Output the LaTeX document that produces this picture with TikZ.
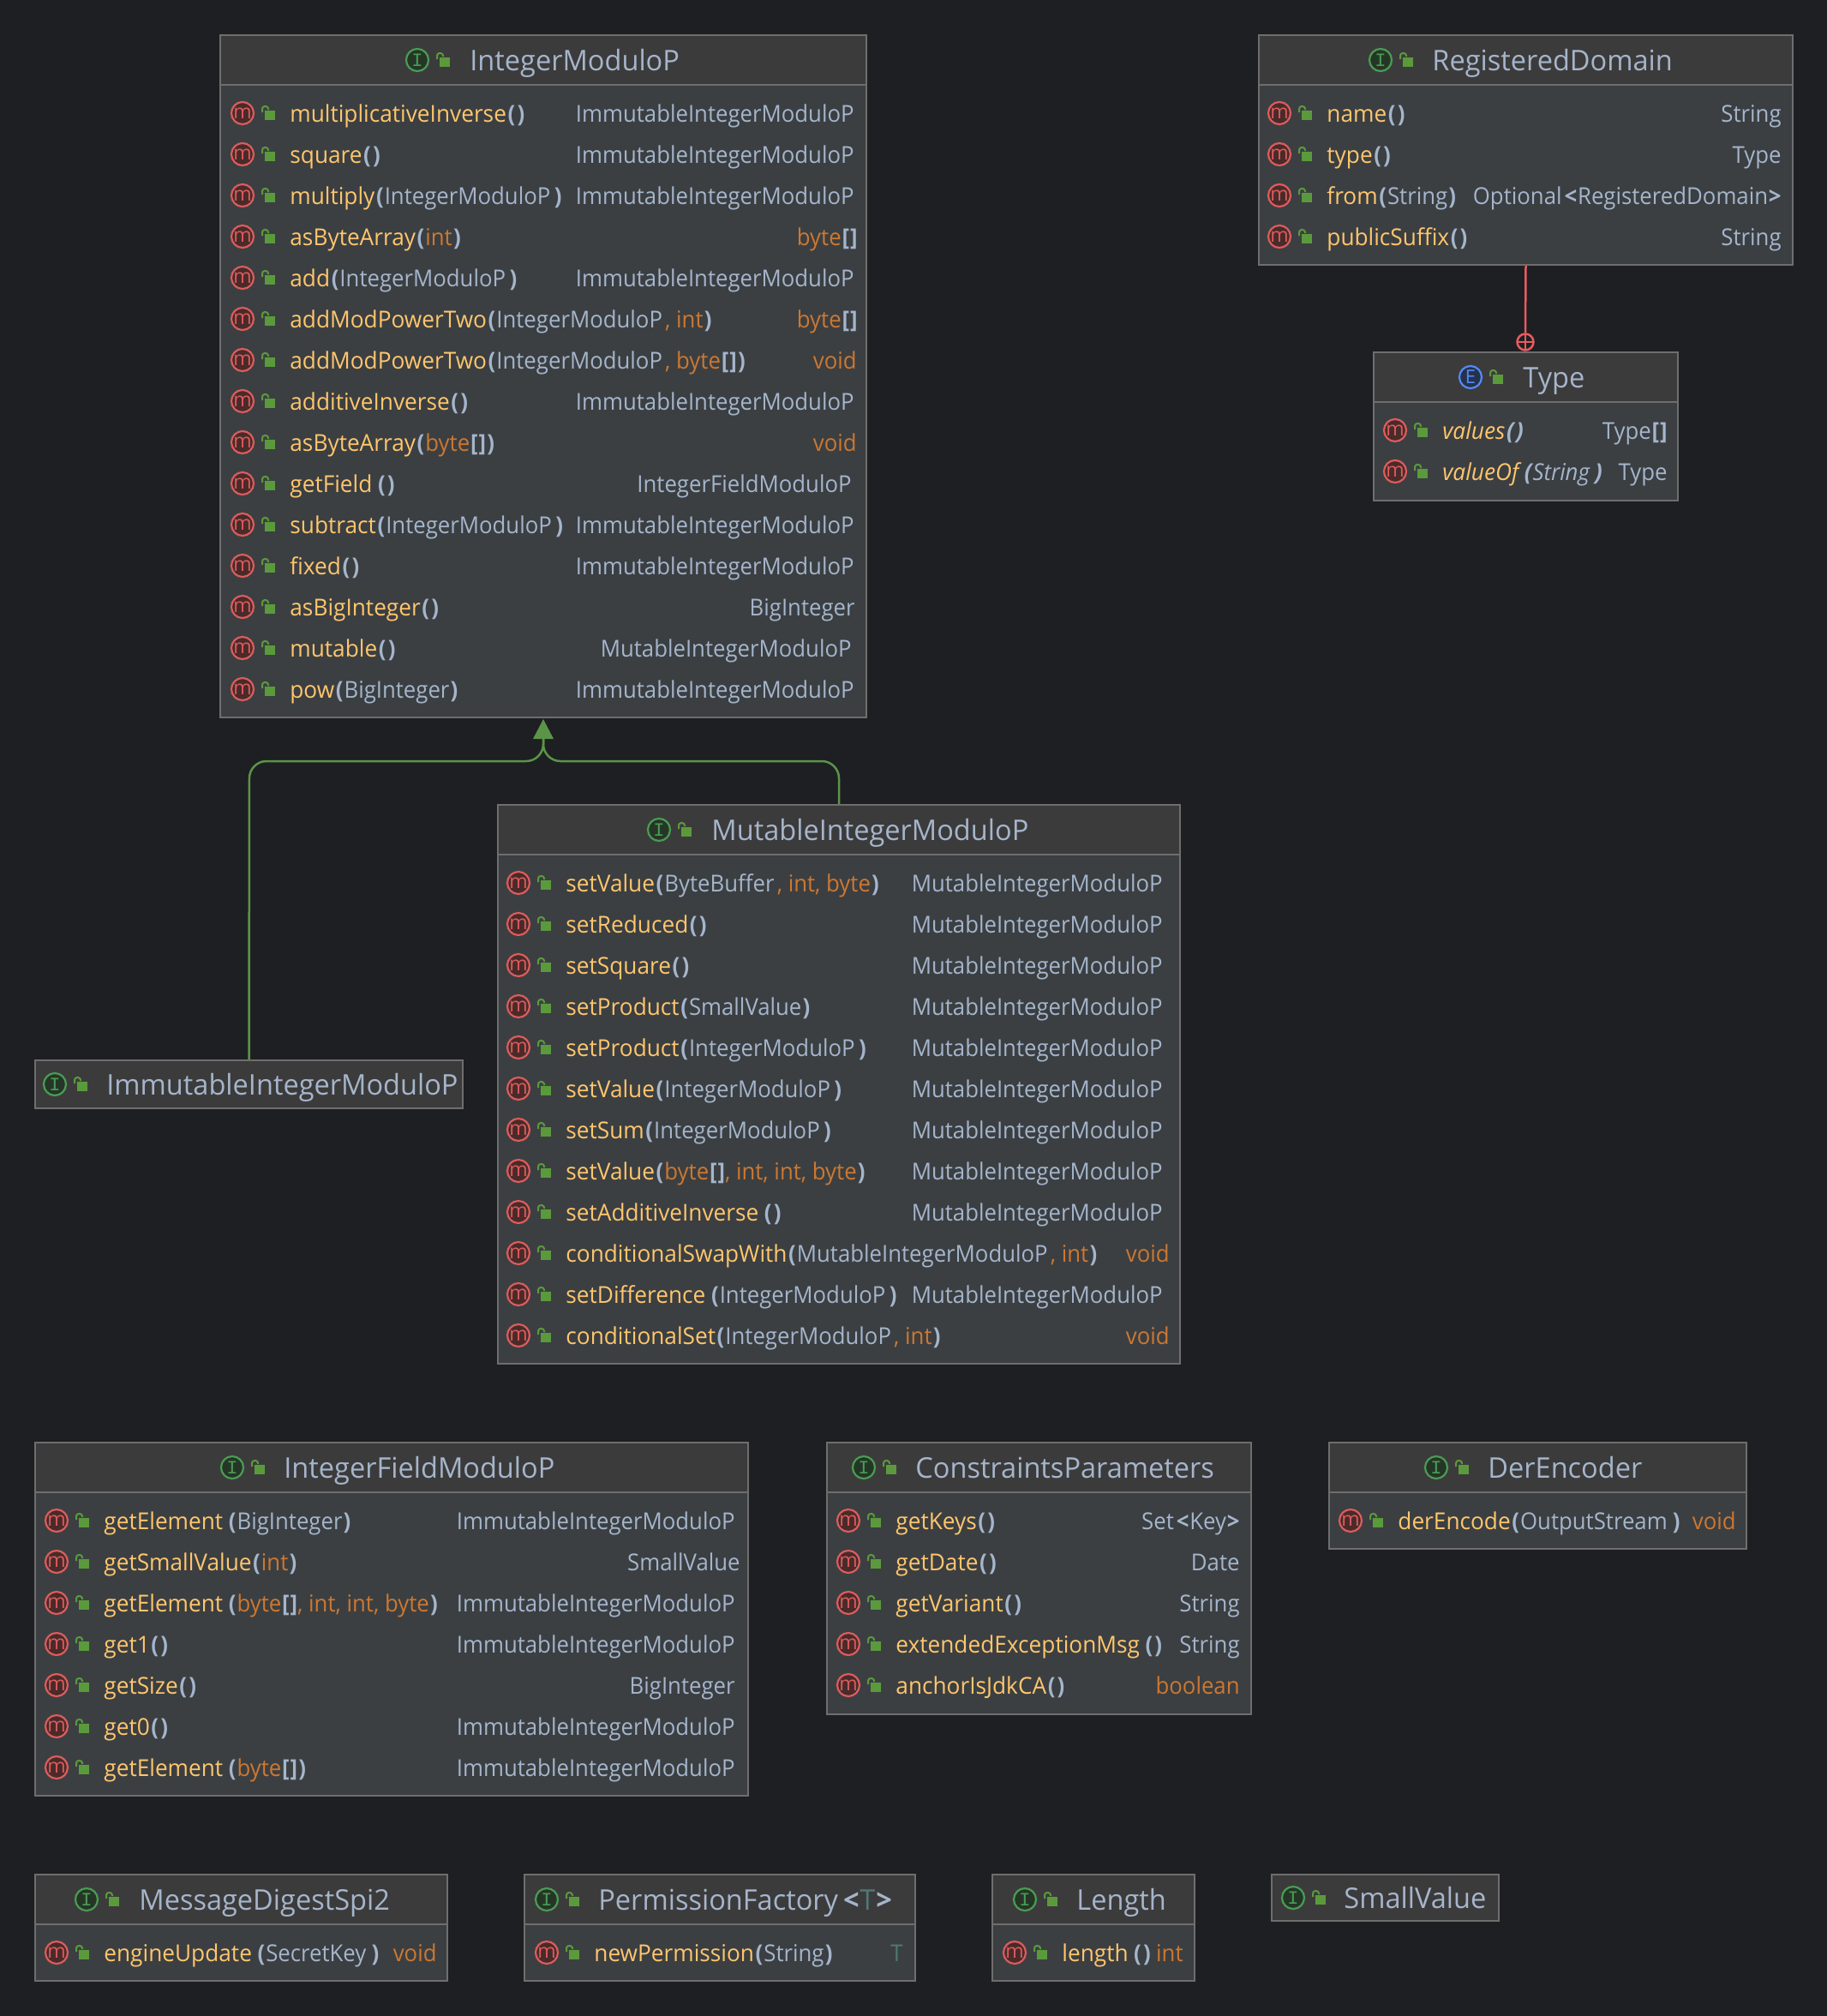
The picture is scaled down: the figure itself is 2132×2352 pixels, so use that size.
\documentclass[tikz,border=0pt]{standalone}
\usepackage{fontspec}
\setmainfont{Open Sans}
\newfontfamily\rowf[FakeStretch=0.947]{Open Sans}
\newfontfamily\methf[FakeStretch=0.965]{Open Sans}
\newfontfamily\titf[FakeStretch=0.98]{Open Sans}
\newfontfamily\iconf{Liberation Mono}
\usetikzlibrary{arrows.meta}
\definecolor{bg}{HTML}{1E1F22}
\definecolor{bodyc}{HTML}{3B3F42}
\definecolor{headc}{HTML}{3C3B3B}
\definecolor{edgec}{HTML}{6E6E6E}
\definecolor{txt}{HTML}{A5B5CB}
\definecolor{meth}{HTML}{FFC66D}
\definecolor{kw}{HTML}{CC7832}
\definecolor{tv}{HTML}{507874}
\definecolor{mred}{HTML}{DB5C5C}
\definecolor{mfill}{HTML}{4A2A2A}
\definecolor{ig}{HTML}{499C54}
\definecolor{ifill}{HTML}{253627}
\definecolor{eb}{HTML}{548AF7}
\definecolor{efill}{HTML}{25324D}
\definecolor{lockc}{HTML}{5B9A3C}
\definecolor{inh}{HTML}{5B9448}
\definecolor{nest}{HTML}{E85B5F}
\newcommand{\M}[1]{\textcolor{meth}{\methf #1}}
\newcommand{\K}[1]{\textcolor{kw}{#1}}
\newcommand{\G}{\kern2.5pt}
\newcommand{\LP}{\kern.8pt\textcolor{txt}{\bfseries(}\kern.5pt}
\newcommand{\RP}{\kern.6pt\textcolor{txt}{\bfseries)}\kern.3pt}
\newcommand{\BR}{\kern.4pt\textcolor{txt}{\bfseries[\kern.5pt]}}
\newcommand{\LA}{\kern1.5pt\textcolor{txt}{\bfseries<}\kern.4pt}
\newcommand{\RA}{\kern.4pt\textcolor{txt}{\bfseries>}}
\newcommand{\IMP}{IntegerModuloP\kern1.6pt}
\newcommand{\MMP}{MutableIntegerModuloP\kern1.6pt}
\newcount\nodeno
\tikzset{
  classbox/.style={draw=edgec,fill=bodyc,line width=1pt,inner sep=0pt,rectangle},
  rowtext/.style={inner sep=0pt,text=txt,font=\rowf\fontsize{13.6}{16}\selectfont},
  titletext/.style={inner sep=0pt,text=txt,font=\titf\fontsize{16.6}{20}\selectfont},
  icon/.style={circle,inner sep=0pt,minimum size=13pt,line width=1.1pt},
  micon/.style={icon,draw=mred,fill=mfill,text=mred,font=\fontsize{11.5}{11.5}\selectfont},
  iicon/.style={icon,draw=ig,fill=ifill,text=ig,font=\iconf\fontsize{11}{11}\selectfont},
  eicon/.style={icon,draw=eb,fill=efill,text=eb,font=\fontsize{11}{11}\selectfont},
  lockbody/.style={fill=lockc},
  lockarc/.style={draw=lockc,line width=1pt},
  inhline/.style={draw=inh,line width=1.25pt},
  nestline/.style={draw=nest,line width=1.25pt},
}
\newcommand{\lockic}[2]{%
  \pgfmathsetmacro\lb{#1+4}\pgfmathsetmacro\lc{#1+16}\pgfmathsetmacro\ld{#1+1}\pgfmathsetmacro\le{#1+8}%
  \pgfmathsetmacro\ya{#2-3}\pgfmathsetmacro\yb{#2+8}\pgfmathsetmacro\yc{#2-1}\pgfmathsetmacro\yd{#2-8}\pgfmathsetmacro\ye{#2-4}%
  \fill[lockbody] (\lb,\ya) rectangle (\lc,\yb);
  \draw[lockarc,rounded corners=1.5pt] (\ld,\yc) -- (\ld,\yd) -- (\le,\yd) -- (\le,\ye);
}
\newcommand{\cbox}[6]{%
  \node[classbox,minimum width={(#4-#2)*0.5pt},minimum height={(#5-#3)*0.5pt}] (#1) at ({(#2+#4)/2},{(#3+#5)/2}) {};
  \fill[headc] ({#2+1},{#3+1}) rectangle ({#4-1},{#6});
  \draw[edgec,line width=1pt] (#2,#6) -- (#4,#6);
}
\newcommand{\hdbox}[5]{%
  \node[classbox,fill=headc,minimum width={(#4-#2)*0.5pt},minimum height={(#5-#3)*0.5pt}] (#1) at ({(#2+#4)/2},{(#3+#5)/2}) {};
}
\newcommand{\ttl}[6]{%
  \global\advance\nodeno by 1
  \node[#1] (ti\the\nodeno) at (#2,#3) {#4};
  \lockic{#2+22}{#3}
  \node[titletext,anchor=base west] (tt\the\nodeno) at (#5,#3+12) {#6};
}
\newcommand{\mrow}[5]{%
  \global\advance\nodeno by 1
  \node[micon] (mi\the\nodeno) at (#1,#2) {m};
  \lockic{#1+22}{#2}
  \node[rowtext,anchor=base west] (ml\the\nodeno) at (#1+55,#2+10) {#3};
  \node[rowtext,anchor=base east] (mr\the\nodeno) at (#4,#2+10) {#5};
}
\begin{document}
\begin{tikzpicture}[x=0.5pt,y=-0.5pt]
\useasboundingbox (0,0) rectangle (2132,2352);
\fill[bg] (0,0) rectangle (2132,2352);

\coordinate (tip) at (634,839);

% IntegerModuloP
\cbox{imp}{257}{41}{1011}{837}{99}
\ttl{iicon}{487}{70}{I}{548}{IntegerModuloP}
\def\cx{283}\def\rx{997}
\mrow{\cx}{132}{\M{multiplicativeInverse}\LP\RP}{\rx}{ImmutableIntegerModuloP}
\mrow{\cx}{180}{\M{square}\LP\RP}{\rx}{ImmutableIntegerModuloP}
\mrow{\cx}{228}{\M{multiply}\LP\IMP\RP}{\rx}{ImmutableIntegerModuloP}
\mrow{\cx}{276}{\M{asByteArray}\LP\K{int}\RP}{1001}{\K{byte}\BR}
\mrow{\cx}{324}{\M{add}\LP\IMP\RP}{\rx}{ImmutableIntegerModuloP}
\mrow{\cx}{372}{\M{addModPowerTwo}\LP\IMP\K{, int}\RP}{1001}{\K{byte}\BR}
\mrow{\cx}{420}{\M{addModPowerTwo}\LP\IMP\K{, byte}\BR\RP}{1000}{\K{void}}
\mrow{\cx}{468}{\M{additiveInverse}\LP\RP}{\rx}{ImmutableIntegerModuloP}
\mrow{\cx}{516}{\M{asByteArray}\LP\K{byte}\BR\RP}{1000}{\K{void}}
\mrow{\cx}{564}{\M{getField}\G\LP\RP}{994}{IntegerFieldModuloP}
\mrow{\cx}{612}{\M{subtract}\LP\IMP\RP}{\rx}{ImmutableIntegerModuloP}
\mrow{\cx}{660}{\M{fixed}\LP\RP}{\rx}{ImmutableIntegerModuloP}
\mrow{\cx}{708}{\M{asBigInteger}\LP\RP}{998}{BigInteger}
\mrow{\cx}{756}{\M{mutable}\LP\RP}{994}{MutableIntegerModuloP}
\mrow{\cx}{804}{\M{pow}\LP BigInteger\RP}{\rx}{ImmutableIntegerModuloP}

% RegisteredDomain
\cbox{rd}{1469}{41}{2092}{309}{99}
\ttl{iicon}{1611}{70}{I}{1671}{RegisteredDomain}
\def\cx{1493}\def\rx{2079}
\mrow{\cx}{132}{\M{name}\LP\RP}{\rx}{String}
\mrow{\cx}{180}{\M{type}\LP\RP}{\rx}{Type}
\mrow{\cx}{228}{\M{from}\LP String\RP}{\rx}{Optional\LA RegisteredDomain\RA}
\mrow{\cx}{276}{\M{publicSuffix}\LP\RP}{\rx}{String}

% Type
\cbox{ty}{1603}{411}{1958}{584}{469}
\ttl{eicon}{1716}{440}{E}{1777}{Type}
\def\cx{1628}\def\rx{1946}
\mrow{\cx}{502}{\itshape\M{values}\LP\RP}{\rx}{Type\BR}
\mrow{\cx}{550}{\itshape\M{valueOf}\G\LP String\G\RP}{\rx}{Type}

% MutableIntegerModuloP
\cbox{mut}{581}{939}{1377}{1591}{997}
\ttl{iicon}{769}{968}{I}{830}{MutableIntegerModuloP}
\def\cx{605}\def\rx{1357}
\mrow{\cx}{1030}{\M{setValue}\LP ByteBuffer\kern1.6pt\K{, int, byte}\RP}{\rx}{MutableIntegerModuloP}
\mrow{\cx}{1078}{\M{setReduced}\LP\RP}{\rx}{MutableIntegerModuloP}
\mrow{\cx}{1126}{\M{setSquare}\LP\RP}{\rx}{MutableIntegerModuloP}
\mrow{\cx}{1174}{\M{setProduct}\LP SmallValue\RP}{\rx}{MutableIntegerModuloP}
\mrow{\cx}{1222}{\M{setProduct}\LP\IMP\RP}{\rx}{MutableIntegerModuloP}
\mrow{\cx}{1270}{\M{setValue}\LP\IMP\RP}{\rx}{MutableIntegerModuloP}
\mrow{\cx}{1318}{\M{setSum}\LP\IMP\RP}{\rx}{MutableIntegerModuloP}
\mrow{\cx}{1366}{\M{setValue}\LP\K{byte}\BR\K{, int, int, byte}\RP}{\rx}{MutableIntegerModuloP}
\mrow{\cx}{1414}{\M{setAdditiveInverse}\G\LP\RP}{\rx}{MutableIntegerModuloP}
\mrow{\cx}{1462}{\M{conditionalSwapWith}\LP\MMP\K{, int}\RP}{1365}{\K{void}}
\mrow{\cx}{1510}{\M{setDifference}\G\LP\IMP\RP}{\rx}{MutableIntegerModuloP}
\mrow{\cx}{1558}{\M{conditionalSet}\LP\IMP\K{, int}\RP}{1365}{\K{void}}

% ImmutableIntegerModuloP
\hdbox{immu}{41}{1237}{540}{1293}
\ttl{iicon}{64}{1265}{I}{124}{ImmutableIntegerModuloP}

% IntegerFieldModuloP
\cbox{ifm}{41}{1683}{873}{2095}{1741}
\ttl{iicon}{271}{1712}{I}{331}{IntegerFieldModuloP}
\def\cx{66}\def\rx{858}
\mrow{\cx}{1774}{\M{getElement}\G\LP BigInteger\RP}{\rx}{ImmutableIntegerModuloP}
\mrow{\cx}{1822}{\M{getSmallValue}\LP\K{int}\RP}{864}{SmallValue}
\mrow{\cx}{1870}{\M{getElement}\G\LP\K{byte}\BR\K{, int, int, byte}\RP}{\rx}{ImmutableIntegerModuloP}
\mrow{\cx}{1918}{\M{get1}\LP\RP}{\rx}{ImmutableIntegerModuloP}
\mrow{\cx}{1966}{\M{getSize}\LP\RP}{\rx}{BigInteger}
\mrow{\cx}{2014}{\M{get0}\LP\RP}{\rx}{ImmutableIntegerModuloP}
\mrow{\cx}{2062}{\M{getElement}\G\LP\K{byte}\BR\RP}{\rx}{ImmutableIntegerModuloP}

% ConstraintsParameters
\cbox{cp}{965}{1683}{1460}{2000}{1741}
\ttl{iicon}{1008}{1712}{I}{1068}{ConstraintsParameters}
\def\cx{990}\def\rx{1447}
\mrow{\cx}{1774}{\M{getKeys}\LP\RP}{\rx}{Set\LA Key\RA}
\mrow{\cx}{1822}{\M{getDate}\LP\RP}{\rx}{Date}
\mrow{\cx}{1870}{\M{getVariant}\LP\RP}{\rx}{String}
\mrow{\cx}{1918}{\M{extendedExceptionMsg}\G\LP\RP}{\rx}{String}
\mrow{\cx}{1966}{\M{anchorIsJdkCA}\LP\RP}{\rx}{\K{boolean}}

% DerEncoder
\cbox{de}{1551}{1683}{2038}{1807}{1741}
\ttl{iicon}{1676}{1712}{I}{1736}{DerEncoder}
\mrow{1576}{1774}{\M{derEncode}\LP OutputStream\G\RP}{2026}{\K{void}}

% MessageDigestSpi2
\cbox{mds}{41}{2187}{522}{2311}{2245}
\ttl{iicon}{101}{2216}{I}{162}{MessageDigestSpi2}
\mrow{66}{2278}{\M{engineUpdate}\G\LP SecretKey\G\RP}{510}{\K{void}}

% PermissionFactory
\cbox{pf}{612}{2187}{1068}{2311}{2245}
\ttl{iicon}{638}{2216}{I}{698}{PermissionFactory\kern1.5pt\LA\textcolor{tv}{T}\RA}
\mrow{638}{2278}{\M{newPermission}\LP String\RP}{1054}{\textcolor{tv}{T}}

% Length
\cbox{len}{1158}{2187}{1394}{2311}{2245}
\ttl{iicon}{1196}{2216}{I}{1256}{Length}
\mrow{1184}{2278}{\M{length}\G\LP\RP}{1381}{\K{int}}

% SmallValue
\hdbox{sv}{1484}{2187}{1749}{2241}
\ttl{iicon}{1509}{2214}{I}{1568}{SmallValue}

% inheritance
\draw[inhline,rounded corners=10pt] (immu.north) -- (291,888) -- (634,888) -- (634,862);
\draw[inhline,rounded corners=10pt] (mut.north) -- (979,888) -- (634,888) -- (634,862);
\fill[inh] (tip) -- (622,862) -- (646,862) -- cycle;

% nested
\node[circle,draw=nest,line width=1.25pt,inner sep=0pt,minimum size=9.5pt] (plus) at (1780,399) {};
\draw[nestline] (rd.south) -- (plus.north);
\draw[nestline,line width=1pt] (1772,399) -- (1788,399) (1780,391) -- (1780,407);
\end{tikzpicture}
\end{document}
